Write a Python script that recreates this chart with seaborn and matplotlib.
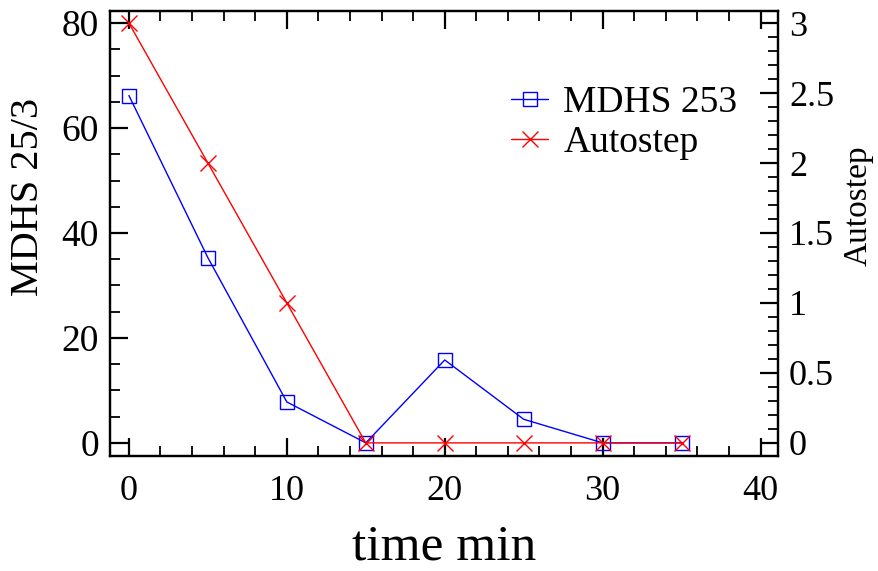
import matplotlib
matplotlib.use("Agg")
import matplotlib.pyplot as plt
from matplotlib.ticker import MultipleLocator
import seaborn as sns
import pandas as pd

# Sampling times (min) and measured values
time_min = [0, 5, 10, 15, 20, 25, 30, 35]
mdhs_253 = [66.2, 35.3, 7.8, 0.0, 15.8, 4.5, 0.0, 0.0]
autostep = [3.0, 2.0, 1.0, 0.0, 0.0, 0.0, 0.0, 0.0]

df = pd.DataFrame({"time": time_min, "MDHS 253": mdhs_253, "Autostep": autostep})

sns.set_style("ticks")
plt.rcParams["font.family"] = ["Liberation Serif", "DejaVu Serif"]
plt.rcParams["mathtext.fontset"] = "stix"
for key in ("text.color", "axes.labelcolor", "xtick.color", "ytick.color",
            "axes.edgecolor"):
    plt.rcParams[key] = "black"

fig = plt.figure(figsize=(8.79, 5.71), dpi=100)
ax = fig.add_axes([0.1251, 0.2014, 0.885 - 0.1251, 0.9807 - 0.2014])
ax2 = ax.twinx()

sns.lineplot(data=df, x="time", y="MDHS 253", ax=ax, color="blue", lw=1.0,
             marker="s", markersize=10, markerfacecolor="none",
             markeredgecolor="blue", markeredgewidth=1.0, label="MDHS 253",
             legend=False)
sns.lineplot(data=df, x="time", y="Autostep", ax=ax2, color="red", lw=1.0,
             marker="x", markersize=12, markeredgecolor="red",
             markeredgewidth=1.0, label="Autostep", legend=False)

ax.set_xlim(-1.2, 41.1)
ax.set_ylim(-2.5, 82.3)
ax2.set_ylim(-2.5 * 3 / 80, 82.3 * 3 / 80)

ax.xaxis.set_major_locator(MultipleLocator(10))
ax.xaxis.set_minor_locator(MultipleLocator(2))
ax.yaxis.set_major_locator(MultipleLocator(20))
ax.yaxis.set_minor_locator(MultipleLocator(5))
ax2.yaxis.set_major_locator(MultipleLocator(0.5))
ax2.yaxis.set_minor_locator(MultipleLocator(0.1))
ax2.yaxis.set_major_formatter(plt.FuncFormatter(lambda v, p: f"{v:g}"))

for a in (ax, ax2):
    for s in a.spines.values():
        s.set_visible(True)
        s.set_linewidth(1.6)
        s.set_color("black")

ax.tick_params(axis="x", which="both", direction="in", top=True, bottom=True,
               labelsize=26, pad=14)
ax.tick_params(axis="y", which="both", direction="in", left=True, right=False,
               labelsize=27, pad=8)
ax.tick_params(which="major", length=13, width=1.6)
ax.tick_params(which="minor", length=7, width=1.3)
ax2.tick_params(axis="y", which="both", direction="in", right=True,
                labelsize=26, pad=8)
ax2.tick_params(which="major", length=13, width=1.6)
ax2.tick_params(which="minor", length=7, width=1.3)

ax.set_xlabel("time min", fontsize=37, labelpad=11)
ax.set_ylabel("MDHS 25/3", fontsize=29)
ax.yaxis.set_label_coords(-0.094, 0.583)
ax2.set_ylabel("Autostep", fontsize=24)
ax2.yaxis.set_label_coords(1.098, 0.562)

handles = ax.get_lines()[:1] + ax2.get_lines()[:1]
ax2.legend(handles, ["MDHS 253", "Autostep"], loc="upper left",
           bbox_to_anchor=(0.561, 0.892), frameon=False, fontsize=27,
           handlelength=1.0, handletextpad=0.4, labelspacing=0.15,
           borderpad=0.2)

fig.savefig("out.png", dpi=100)
